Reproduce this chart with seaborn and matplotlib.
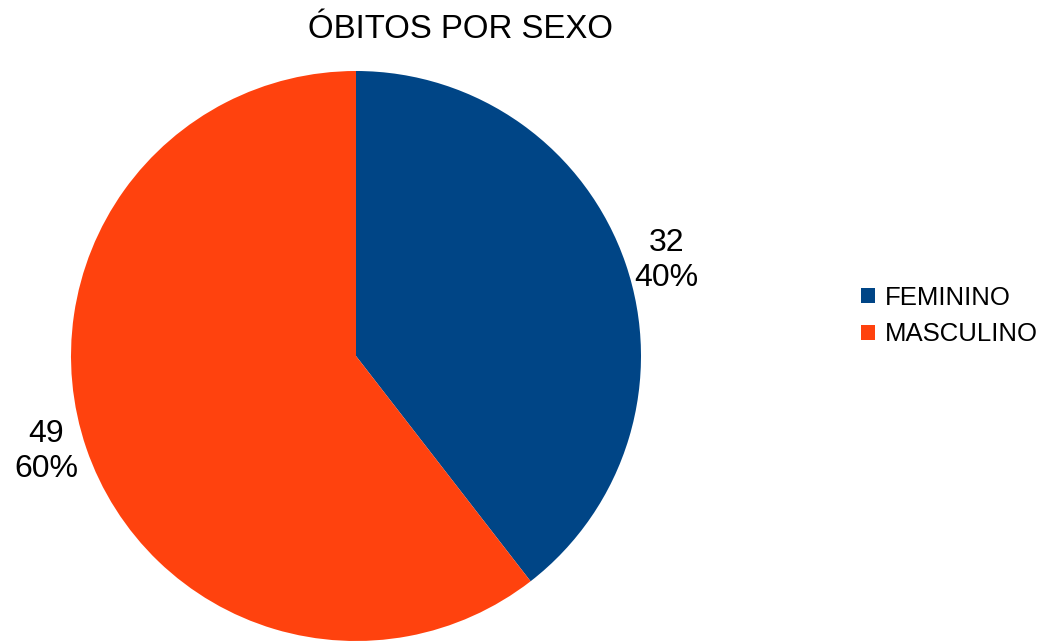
import matplotlib
matplotlib.use("Agg")
import matplotlib.pyplot as plt
import seaborn as sns

sexos = ["FEMININO", "MASCULINO"]
obitos = [32, 49]
cores = ["#004586", "#ff420e"]

sns.set_theme(style="white")
plt.rcParams['font.family'] = ['Liberation Sans', 'DejaVu Sans']
plt.rcParams['text.color'] = 'black'

fig = plt.figure(figsize=(10.51, 6.41), dpi=100)
ax = fig.add_axes([71 / 1051, 0 / 641, 570 / 1051, 570 / 641])

total = sum(obitos)
rotulos = [f"{v}\n{round(v / total * 100)}%" for v in obitos]

wedges, texts = ax.pie(obitos, colors=cores, startangle=90, counterclock=False,
                       labels=rotulos, labeldistance=1.15,
                       wedgeprops={'linewidth': 0},
                       textprops={'fontsize': 23, 'color': 'black', 'linespacing': 1.2})
for t in texts:
    t.set_ha('center')
    t.set_va('center')
    x, y = t.get_position()
    t.set_position((x, y * 0.9))
ax.set_xlim(-1, 1)
ax.set_ylim(-1, 1)
ax.set_aspect('equal')

fig.text(461 / 1051, 1 - 30 / 641, "ÓBITOS POR SEXO", ha='center', va='center',
         fontsize=23.8, color='black')

leg = fig.legend(wedges, sexos, loc='center left', bbox_to_anchor=(848 / 1051, 1 - 316 / 641),
                 frameon=False, fontsize=18.5, handlelength=0.55, handleheight=0.55,
                 handletextpad=0.4, labelspacing=0.5, borderpad=0)
for txt in leg.get_texts():
    txt.set_color('black')

fig.savefig("out.png", dpi=100)
